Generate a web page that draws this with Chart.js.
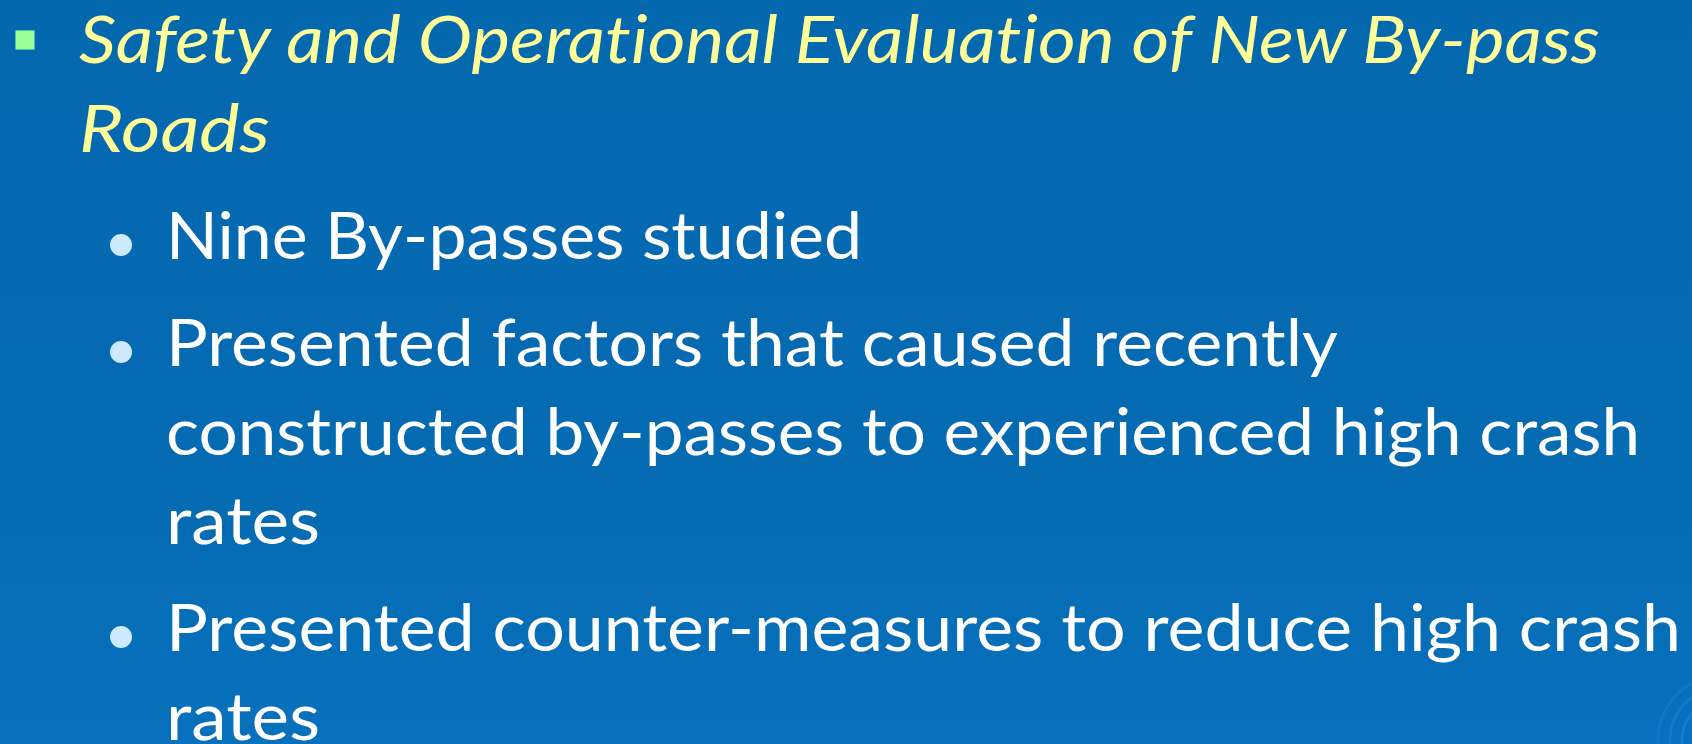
<!DOCTYPE html>
<html lang="en">
<head>
  <meta charset="UTF-8">
  <title>Safety and Operational Evaluation of New By-pass Roads</title>
  <script src="https://cdn.jsdelivr.net/npm/chart.js"></script>
  <style>
    body {
      margin: 0;
      width: 1692px;
      height: 744px;
      overflow: hidden;
      background-color: #0568b0;
      font-family: 'Lato', 'Open Sans', sans-serif;
    }

    #slide {
      position: absolute;
      left: 0;
      top: 0;
    }

    .line {
      position: absolute;
      white-space: nowrap;
      font-size: 66px;
      line-height: 80px;
      transform-origin: 0 0;
      font-variant-ligatures: none;
      font-feature-settings: "liga" 0, "clig" 0;
    }

    .level1 {
      color: #ffff99;
      font-style: italic;
    }

    .level2 {
      color: #ffffff;
    }
  </style>
</head>
<body>
  <canvas id="slide" width="1692" height="744"></canvas>
  <div id="text"></div>

  <script>
    // slide content: one entry per printed line
    const lineTexts = [
      'Safety and Operational Evaluation of New By-pass',
      'Roads',
      'Nine By-passes studied',
      'Presented factors that caused recently',
      'constructed by-passes to experienced high crash',
      'rates',
      'Presented counter-measures to reduce high crash',
      'rates'
    ];
    const lineLevels = [1, 1, 2, 2, 2, 2, 2, 2];
    const bulletStarts = [true, false, true, true, false, false, true, false];

    // layout (pixels)
    const W = 1692, H = 744;
    const firstBaseline = 63;
    const lineStep = 89;
    const paraGap = 18;
    const textLeft = { 1: 79, 2: 166 };
    const inkRight = [1600, 270, 862, 1338, 1640, 320, 1681, 320];
    const bulletX = { 1: 25, 2: 121 };
    const bulletLift = { 1: 23, 2: 14 };

    const baselines = [];
    let y = firstBaseline;
    lineTexts.forEach((t, i) => {
      if (i > 0) {
        y += lineStep;
        if (bulletStarts[i]) y += paraGap;
      }
      baselines.push(y);
    });

    // text as real html lines
    const holder = document.getElementById('text');
    lineTexts.forEach((t, i) => {
      const div = document.createElement('div');
      div.className = 'line level' + lineLevels[i];
      div.textContent = t;
      const probe = document.createElement('span');
      probe.style.cssText = 'display:inline-block;width:0;height:0;vertical-align:baseline';
      div.appendChild(probe);
      holder.appendChild(div);
      const base = probe.offsetTop;
      const w = div.getBoundingClientRect().width;
      const left = textLeft[lineLevels[i]];
      div.style.left = left + 'px';
      div.style.top = (baselines[i] - base) + 'px';
      div.style.transform = 'scaleX(' + ((inkRight[i] - left) / w) + ')';
    });

    const squareBullets = [];
    const roundBullets = [];
    lineTexts.forEach((t, i) => {
      if (!bulletStarts[i]) return;
      const lv = lineLevels[i];
      const p = { x: bulletX[lv], y: baselines[i] - bulletLift[lv] };
      (lv === 1 ? squareBullets : roundBullets).push(p);
    });

    const backdrop = {
      id: 'backdrop',
      beforeDraw(chart) {
        const c = chart.ctx;
        const g = c.createLinearGradient(0, 0, 0, H);
        g.addColorStop(0, '#0468af');
        g.addColorStop(0.7, '#056bb3');
        g.addColorStop(1, '#0871bd');
        c.save();
        c.fillStyle = g;
        c.fillRect(0, 0, W, H);
        // faint swirl in the corner
        c.lineWidth = 3;
        const rings = [[28, 0.55], [40, 0.45], [52, 0.35], [64, 0.25]];
        rings.forEach(([r, a]) => {
          c.strokeStyle = 'rgba(40, 140, 230,' + a + ')';
          c.beginPath();
          c.arc(1722, 740, r, Math.PI * 0.95, Math.PI * 1.45);
          c.stroke();
        });
        c.restore();
      }
    };

    new Chart(document.getElementById('slide'), {
      type: 'scatter',
      data: {
        datasets: [{
          data: squareBullets,
          pointStyle: 'rect',
          pointRadius: 13.5,
          backgroundColor: '#99ff99',
          borderWidth: 0
        }, {
          data: roundBullets,
          pointStyle: 'circle',
          pointRadius: 11,
          backgroundColor: '#cce9ff',
          borderWidth: 0
        }]
      },
      options: {
        responsive: false,
        animation: false,
        layout: { padding: 0, autoPadding: false },
        scales: {
          x: { type: 'linear', min: 0, max: W, display: false },
          y: { type: 'linear', min: 0, max: H, reverse: true, display: false }
        },
        plugins: {
          legend: { display: false },
          tooltip: { enabled: false }
        }
      },
      plugins: [backdrop]
    });
  </script>
</body>
</html>
